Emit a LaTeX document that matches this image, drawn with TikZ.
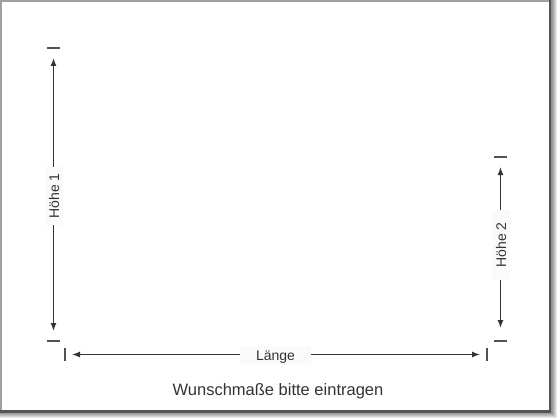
\documentclass[tikz,border=0pt]{standalone}
\usepackage{fontspec}
\setmainfont{Liberation Sans}
\usetikzlibrary{arrows.meta}
\usetikzlibrary{positioning}
\definecolor{ink}{HTML}{333333}
\definecolor{rim}{HTML}{A0A0A0}
\definecolor{edgedark}{HTML}{555555}
\definecolor{labelbg}{HTML}{FAFAFA}

\begin{document}
\begin{tikzpicture}[x=1pt,y=-1pt,
  dim/.style={draw=ink,line width=1.3pt,-{Latex[length=8pt,width=6pt]}},
  tickmark/.style={draw=ink!85,line width=1.4pt},
  lbl/.style={fill=labelbg,text=ink,font=\fontsize{14}{16}\selectfont,
    inner ysep=3pt,text height=11.5pt,text depth=0.5pt}]
\useasboundingbox (0,0) rectangle (560,420);
\fill[white] (0,0) rectangle (560,420);

%sheet with shadow
\foreach \s in {1,...,7}
  \fill[black,opacity=0.09] (0,0) rectangle (550+\s,411+\s);
\draw[rim,line width=2pt,fill=white] (1,1) rectangle (550,411);
\draw[edgedark,line width=2.5pt] (550,0) -- (550,411.5) -- (0,411.5);

%tick positions and arrow tips
\coordinate (h1top) at (53.5,48);
\coordinate (h1bot) at (53.5,341);
\coordinate (h1a) at (53.5,58);
\coordinate (h1b) at (53.5,331);
\coordinate (h2top) at (500.5,157);
\coordinate (h2bot) at (500.5,341);
\coordinate (h2a) at (500.5,167);
\coordinate (h2b) at (500.5,328);
\coordinate (lgl) at (65,354.5);
\coordinate (lgr) at (487,354.5);
\coordinate (lga) at (72,354.5);
\coordinate (lgb) at (480,354.5);

%labels
\node[lbl,rotate=90,inner xsep=6.5pt] (hoehe1) at (53.5,196) {Höhe 1};
\node[lbl,rotate=90,inner xsep=12pt] (hoehe2) at (500.5,245) {Höhe 2};
\node[lbl,inner xsep=16pt] (laenge) at (275.5,354.5) {Länge};
\node[text=ink,font=\fontsize{16.5}{19}\selectfont,anchor=base] (hint) at (278,395)
  {Wunschmaße bitte eintragen};

%arrows
\draw[dim] (hoehe1) -- (h1a);
\draw[dim] (hoehe1) -- (h1b);
\draw[dim] (hoehe2) -- (h2a);
\draw[dim] (hoehe2) -- (h2b);
\draw[dim] (laenge) -- (lga);
\draw[dim] (laenge) -- (lgb);

%ticks
\draw[tickmark] ([xshift=-6.5pt]h1top) -- ([xshift=6.5pt]h1top);
\draw[tickmark] ([xshift=-6.5pt]h1bot) -- ([xshift=6.5pt]h1bot);
\draw[tickmark] ([xshift=-6.5pt]h2top) -- ([xshift=6.5pt]h2top);
\draw[tickmark] ([xshift=-6.5pt]h2bot) -- ([xshift=6.5pt]h2bot);
\draw[tickmark] ([yshift=-6.5pt]lgl) -- ([yshift=6.5pt]lgl);
\draw[tickmark] ([yshift=-6.5pt]lgr) -- ([yshift=6.5pt]lgr);
\end{tikzpicture}
\end{document}
